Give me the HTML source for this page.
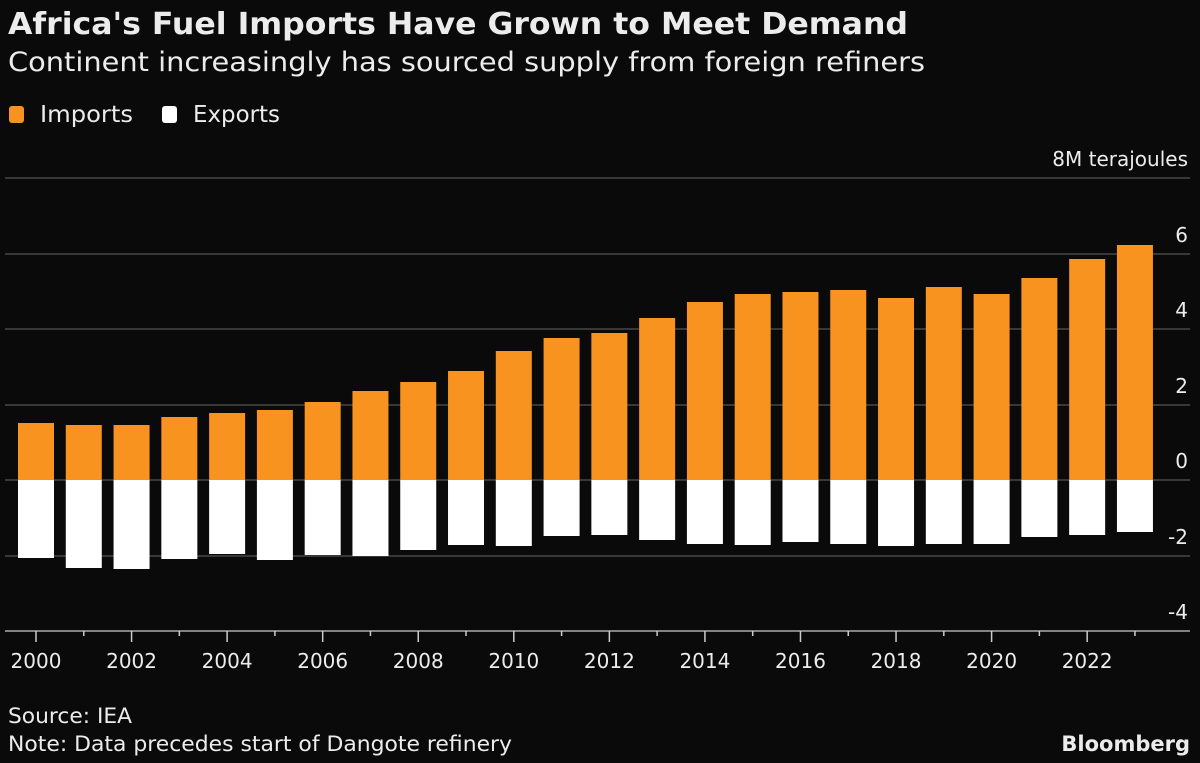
<!DOCTYPE html>
<html><head><meta charset="utf-8"><style>
body{margin:0;background:#0a0a0a;}
svg{display:block}
text{font-family:"DejaVu Sans","Liberation Sans",sans-serif;fill:#ececec}
</style></head><body>
<svg width="1200" height="763" xmlns="http://www.w3.org/2000/svg">
<rect width="1200" height="763" fill="#0a0a0a"/>
<text x="8" y="34" font-size="30" font-weight="bold" fill="#fff" textLength="900" lengthAdjust="spacingAndGlyphs">Africa's Fuel Imports Have Grown to Meet Demand</text>
<text x="8" y="71" font-size="27" textLength="917" lengthAdjust="spacingAndGlyphs">Continent increasingly has sourced supply from foreign refiners</text>
<rect x="9" y="106" width="15" height="17" rx="3" fill="#f7931e"/>
<text x="40" y="122" font-size="23" textLength="93" lengthAdjust="spacingAndGlyphs">Imports</text>
<rect x="162" y="106" width="15" height="17" rx="3" fill="#fff"/>
<text x="193" y="122" font-size="23" textLength="87" lengthAdjust="spacingAndGlyphs">Exports</text>
<g stroke="#555" stroke-width="1.2">
<line x1="5" x2="1190" y1="178" y2="178"/>
<line x1="5" x2="1190" y1="254" y2="254"/>
<line x1="5" x2="1190" y1="329" y2="329"/>
<line x1="5" x2="1190" y1="405" y2="405"/>
<line x1="5" x2="1190" y1="480" y2="480"/>
<line x1="5" x2="1190" y1="556" y2="556"/>
</g>
<g font-size="20" text-anchor="end">
<text x="1188" y="166">8M terajoules</text>
<text x="1188" y="242">6</text>
<text x="1188" y="317">4</text>
<text x="1188" y="393">2</text>
<text x="1188" y="468">0</text>
<text x="1188" y="544">-2</text>
<text x="1188" y="619">-4</text>
</g>
<g id="bars"></g>
<line x1="5" x2="1190" y1="631" y2="631" stroke="#aaa" stroke-width="1.5"/>
<g id="ticks" stroke="#ccc" stroke-width="1.5"></g>
<g id="yrs" font-size="20" text-anchor="middle"></g>
<text x="8" y="723" font-size="21" textLength="124" lengthAdjust="spacingAndGlyphs">Source: IEA</text>
<text x="8" y="751" font-size="21" textLength="504" lengthAdjust="spacingAndGlyphs">Note: Data precedes start of Dangote refinery</text>
<text x="1190" y="751" font-size="21" font-weight="bold" text-anchor="end" fill="#fff">Bloomberg</text>
<script>
var tops=[423,425,425,417,413,410,402,391,382,371,351,338,333,318,302,294,292,290,298,287,294,278,259,245];
var bots=[558,568,569,559,554,560,555,556,550,545,546,536,535,540,544,545,542,544,546,544,544,537,535,532];
var ns="http://www.w3.org/2000/svg",b=document.getElementById("bars"),t=document.getElementById("ticks"),y=document.getElementById("yrs");
for(var i=0;i<24;i++){var c=36+47.78*i;
var r=document.createElementNS(ns,"rect");r.setAttribute("x",c-18);r.setAttribute("width",36);r.setAttribute("y",tops[i]);r.setAttribute("height",480-tops[i]);r.setAttribute("fill","#f7931e");b.appendChild(r);
r=document.createElementNS(ns,"rect");r.setAttribute("x",c-18);r.setAttribute("width",36);r.setAttribute("y",480);r.setAttribute("height",bots[i]-480);r.setAttribute("fill","#fff");b.appendChild(r);
var l=document.createElementNS(ns,"line");l.setAttribute("x1",c);l.setAttribute("x2",c);l.setAttribute("y1",631);l.setAttribute("y2",i%2?636:642);t.appendChild(l);
if(i%2==0){var tx=document.createElementNS(ns,"text");tx.setAttribute("x",c);tx.setAttribute("y",668);tx.textContent=2000+i;y.appendChild(tx);}}
</script>
</svg>
</body></html>
